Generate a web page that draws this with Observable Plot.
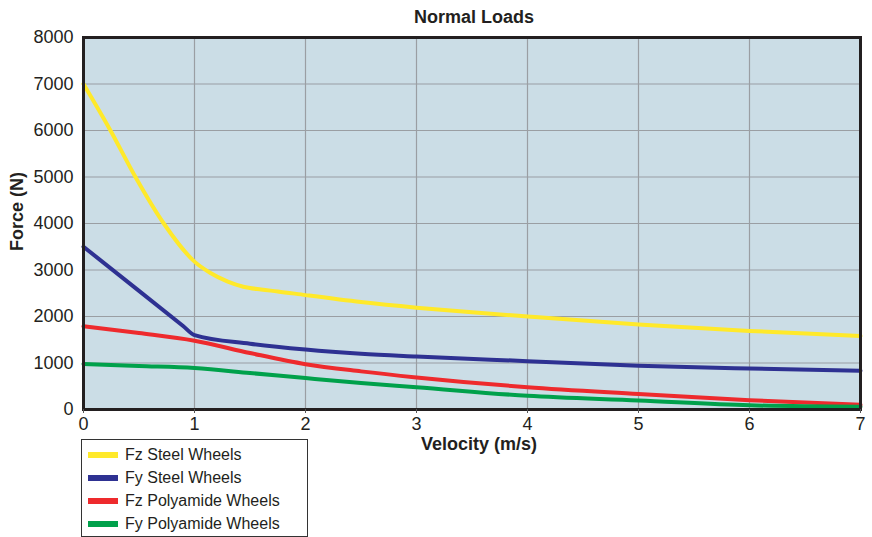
<!DOCTYPE html>
<html>
<head>
<meta charset="utf-8">
<script src="https://cdn.jsdelivr.net/npm/d3@7"></script>
<script src="https://cdn.jsdelivr.net/npm/@observablehq/plot@0.6"></script>
<style>
  body { margin: 0; background: #fff; font-family: "Liberation Sans", Arial, sans-serif; }
  #wrap { position: relative; width: 872px; height: 537px; overflow: hidden; }
  #legend { position: absolute; left: 81px; top: 439px; width: 225px; height: 96px;
    border: 1px solid #333; background: #fff; box-sizing: content-box; }
  .item { position: absolute; left: 6px; height: 20px; display: flex; align-items: center;
    font-size: 16px; color: #231f20; }
  .sw { width: 30px; height: 6px; margin-right: 7px; }
</style>
</head>
<body>
<div id="wrap"></div>
<script>
const seriesNames = ["Fz Steel Wheels", "Fy Steel Wheels", "Fz Polyamide Wheels", "Fy Polyamide Wheels"];
const seriesColors = ["#ffe92a", "#2e3192", "#ee2a2d", "#00a14b"];

const fzSteelX = [0, 0.243, 0.468, 0.723, 1, 1.14, 1.3, 1.44, 1.6, 1.75, 2, 2.5, 3, 3.5, 4, 5, 6, 7];
const fzSteelY = [7000, 6000, 5000, 4000, 3180, 2940, 2750, 2640, 2580, 2540, 2460, 2310, 2190, 2090, 2000, 1830, 1690, 1580];

const fySteelX = [0, 0.5, 0.9, 1, 1.5, 2, 2.5, 3, 4, 5, 6, 7];
const fySteelY = [3500, 2550, 1790, 1600, 1415, 1290, 1200, 1140, 1040, 940, 880, 835];

const fzPolyX = [0, 0.5, 1, 1.5, 2, 2.5, 3, 4, 5, 6, 7];
const fzPolyY = [1790, 1645, 1480, 1215, 975, 820, 690, 480, 335, 200, 100];

const fyPolyX = [0, 0.5, 1, 1.5, 2, 2.5, 3, 4, 5, 6, 7];
const fyPolyY = [980, 935, 890, 785, 675, 570, 480, 295, 195, 90, 60];

const xTicks = [0, 1, 2, 3, 4, 5, 6, 7];
const yTicks = [0, 1000, 2000, 3000, 4000, 5000, 6000, 7000, 8000];

const allX = [fzSteelX, fySteelX, fzPolyX, fyPolyX];
const allY = [fzSteelY, fySteelY, fzPolyY, fyPolyY];
const data = allX.flatMap((xs, i) => xs.map((x, j) => ({series: seriesNames[i], x, y: allY[i][j]})));

const ink = "#231f20";
const chart = Plot.plot({
  width: 872,
  height: 537,
  marginLeft: 83,
  marginRight: 12,
  marginTop: 37,
  marginBottom: 128,
  style: {fontFamily: "'Liberation Sans', Arial, sans-serif", fontSize: "18px", color: ink, background: "#fff"},
  x: {domain: [0, 7], ticks: xTicks},
  y: {domain: [0, 8000], ticks: yTicks},
  color: {domain: seriesNames, range: seriesColors},
  marks: [
    Plot.frame({fill: "#cbdde6", stroke: null}),
    Plot.gridX(xTicks, {stroke: "#9a9ea3", strokeOpacity: 1, strokeWidth: 1.2}),
    Plot.gridY(yTicks, {stroke: "#9a9ea3", strokeOpacity: 1, strokeWidth: 1.2}),
    Plot.line(data, {x: "x", y: "y", z: "series", stroke: "series", strokeWidth: 4, curve: "monotone-x"}),
    Plot.frame({stroke: ink, strokeWidth: 3}),
    Plot.axisX(xTicks, {label: null, tickSize: 4, tickPadding: 4, stroke: "#555", fontSize: 18, tickFormat: d3.format("d")}),
    Plot.axisY(yTicks, {label: null, tickSize: 0, tickPadding: 10, fontSize: 18, tickFormat: d3.format("d")}),
    Plot.text(["Normal Loads"], {frameAnchor: "top", lineAnchor: "middle", textAnchor: "middle", dy: -20, dx: 2, fontWeight: "bold", fontSize: 18, fill: ink}),
    Plot.text(["Velocity (m/s)"], {frameAnchor: "bottom", lineAnchor: "middle", textAnchor: "middle", dy: 35, dx: 7, fontWeight: "bold", fontSize: 18, fill: ink}),
    Plot.text(["Force (N)"], {frameAnchor: "left", lineAnchor: "middle", textAnchor: "middle", dx: -66, dy: -12, rotate: -90, fontWeight: "bold", fontSize: 18, fill: ink})
  ]
});

const wrap = document.getElementById("wrap");
wrap.appendChild(chart);

const legend = document.createElement("div");
legend.id = "legend";
const tops = [5, 28, 51, 74];
seriesNames.forEach((name, i) => {
  const item = document.createElement("div");
  item.className = "item";
  item.style.top = tops[i] + "px";
  const sw = document.createElement("span");
  sw.className = "sw";
  sw.style.background = seriesColors[i];
  const label = document.createElement("span");
  label.textContent = name;
  item.appendChild(sw);
  item.appendChild(label);
  legend.appendChild(item);
});
wrap.appendChild(legend);
</script>
</body>
</html>
